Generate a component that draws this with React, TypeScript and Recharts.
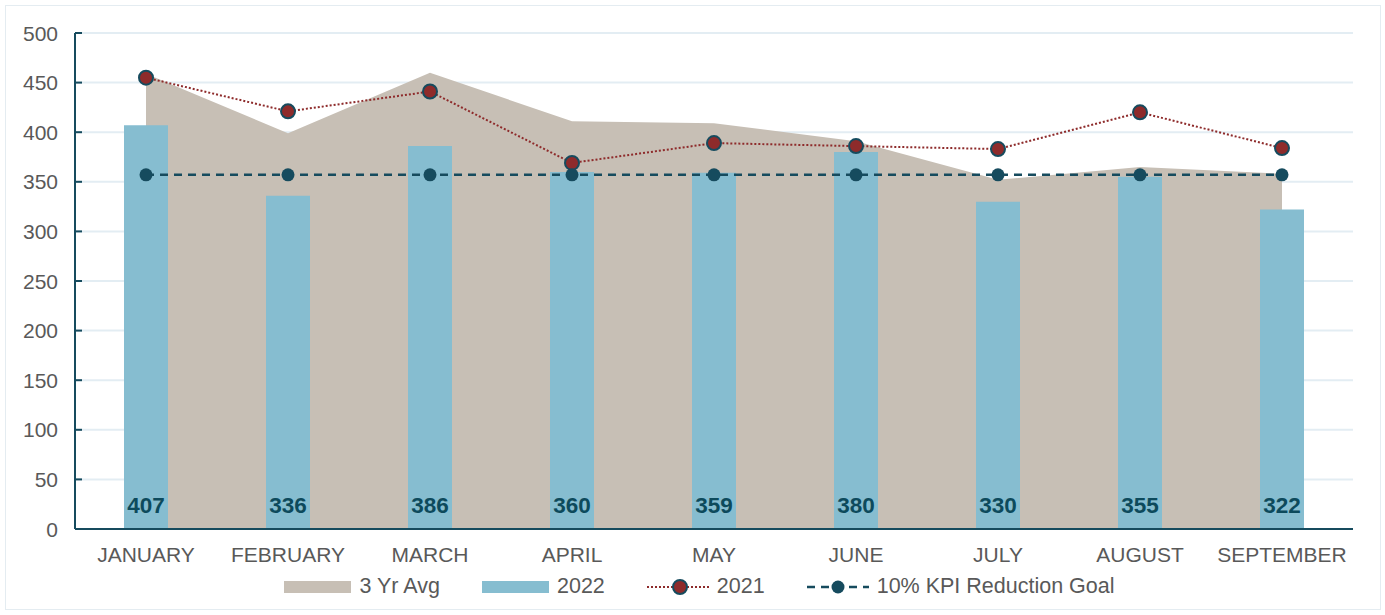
import React from "react";
import {
  ComposedChart,
  Area,
  Bar,
  Line,
  XAxis,
  YAxis,
  CartesianGrid,
  Legend,
  LabelList,
} from "recharts";

const MONTHS = ["JANUARY", "FEBRUARY", "MARCH", "APRIL", "MAY", "JUNE", "JULY", "AUGUST", "SEPTEMBER"];
const AVG_3YR = [459, 399, 460, 411, 409, 391, 352, 365, 358];
const Y2022 = [407, 336, 386, 360, 359, 380, 330, 355, 322];
const Y2021 = [455, 421, 441, 369, 389, 386, 383, 420, 384];
const KPI_GOAL = [357, 357, 357, 357, 357, 357, 357, 357, 357];
const Y_TICKS = [0, 50, 100, 150, 200, 250, 300, 350, 400, 450, 500];

const AXIS = "#164b5e";
const TEXT = "#595959";
const AREA = "#c7bfb5";
const BAR = "#86bdd0";
const RED = "#8e2b2b";
const FONT = "'Liberation Sans', Arial, sans-serif";
const FS = 21;
const Y_TICK_GAP = 17;

const data = MONTHS.map((m, i) => ({
  month: m,
  avg: AVG_3YR[i],
  y2022: Y2022[i],
  y2021: Y2021[i],
  kpi: KPI_GOAL[i],
}));

// y ticks: label on the left, short tick mark pointing into the plot
const YTick = (props: any) => {
  const { x, y, payload } = props;
  const ax = x + Y_TICK_GAP;
  return (
    <g>
      <line x1={ax} x2={ax + 7} y1={y} y2={y} stroke={AXIS} strokeWidth={2} />
      <text x={x} y={y} dy="0.36em" textAnchor="end" fill={TEXT} fontSize={FS} fontFamily={FONT}>
        {payload.value}
      </text>
    </g>
  );
};

const BarValue = (props: any) => {
  const { x, y, width, height, value } = props;
  return (
    <text
      x={x + width / 2}
      y={y + height - 16}
      textAnchor="middle"
      fill="#0d4a5c"
      fontSize={22.5}
      fontWeight="bold"
      fontFamily={FONT}
    >
      {value}
    </text>
  );
};

const LegendBox = () => {
  const txt: React.CSSProperties = { fontSize: 21.5, color: TEXT, fontFamily: FONT, marginLeft: 8 };
  const item: React.CSSProperties = { display: "flex", alignItems: "center", marginRight: 42 };
  return (
    <div style={{ display: "flex", justifyContent: "center", alignItems: "center", paddingLeft: 31 }}>
      <div style={item}>
        <div style={{ width: 67, height: 12, background: AREA }} />
        <span style={txt}>3 Yr Avg</span>
      </div>
      <div style={item}>
        <div style={{ width: 67, height: 12, background: BAR }} />
        <span style={txt}>2022</span>
      </div>
      <div style={item}>
        <svg width={62} height={20}>
          <line x1={0} x2={62} y1={10} y2={10} stroke={RED} strokeWidth={2} strokeDasharray="2 2" />
          <circle cx={33} cy={10} r={7} fill={RED} stroke={AXIS} strokeWidth={2} />
        </svg>
        <span style={txt}>2021</span>
      </div>
      <div style={{ ...item, marginRight: 0 }}>
        <svg width={62} height={20}>
          <line x1={0} x2={62} y1={10} y2={10} stroke={AXIS} strokeWidth={2.5} strokeDasharray="8 6" />
          <circle cx={31} cy={10} r={6.5} fill={AXIS} />
        </svg>
        <span style={txt}>10% KPI Reduction Goal</span>
      </div>
    </div>
  );
};

export default function App() {
  return (
    <div style={{ position: "absolute", left: 0, top: 0, width: 1385, height: 615, background: "#fff" }}>
      <div
        style={{
          position: "absolute",
          left: 5,
          top: 5,
          width: 1374,
          height: 603,
          border: "1.5px solid #e4ecf1",
        }}
      />
      <ComposedChart
        width={1385}
        height={615}
        data={data}
        margin={{ top: 33, right: 32, left: 15, bottom: 11 }}
        style={{ position: "absolute", left: 0, top: 0 }}
      >
        <CartesianGrid vertical={false} stroke="#e3edf3" strokeWidth={2} />
        <XAxis
          dataKey="month"
          axisLine={{ stroke: AXIS, strokeWidth: 2 }}
          tickLine={false}
          tickSize={0}
          tickMargin={18}
          height={45}
          interval={0}
          tick={{ fill: TEXT, fontSize: FS, fontFamily: FONT }}
        />
        <YAxis
          width={60}
          domain={[0, 500]}
          ticks={Y_TICKS}
          interval={0}
          axisLine={{ stroke: AXIS, strokeWidth: 2 }}
          tickLine={false}
          tickSize={0}
          tickMargin={Y_TICK_GAP}
          tick={<YTick />}
        />
        <Legend verticalAlign="bottom" height={30} content={<LegendBox />} />
        <Area
          dataKey="avg"
          type="linear"
          fill={AREA}
          fillOpacity={1}
          stroke="none"
          isAnimationActive={false}
          activeDot={false}
        />
        <Bar dataKey="y2022" fill={BAR} barSize={44} isAnimationActive={false}>
          <LabelList dataKey="y2022" content={<BarValue />} />
        </Bar>
        <Line
          dataKey="y2021"
          type="linear"
          stroke={RED}
          strokeWidth={2}
          strokeDasharray="2 2"
          dot={{ r: 7, fill: RED, stroke: AXIS, strokeWidth: 2, strokeDasharray: "" }}
          activeDot={false}
          isAnimationActive={false}
        />
        <Line
          dataKey="kpi"
          type="linear"
          stroke={AXIS}
          strokeWidth={2.5}
          strokeDasharray="8 6"
          dot={{ r: 6.5, fill: AXIS, stroke: AXIS, strokeWidth: 0, strokeDasharray: "" }}
          activeDot={false}
          isAnimationActive={false}
        />
      </ComposedChart>
    </div>
  );
}
